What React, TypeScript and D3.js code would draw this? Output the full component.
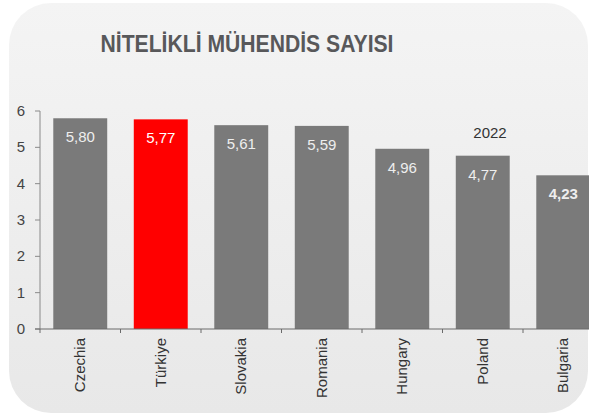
import * as d3 from "d3";

const countries = ["Czechia", "Türkiye", "Slovakia", "Romania", "Hungary", "Poland", "Bulgaria"];
const values = [5.8, 5.77, 5.61, 5.59, 4.96, 4.77, 4.23];
const labels = ["5,80", "5,77", "5,61", "5,59", "4,96", "4,77", "4,23"];
const yTicks = [0, 1, 2, 3, 4, 5, 6];
const highlight = "Türkiye";

export default function App() {
  const width = 589;
  const height = 419;
  const x0 = 40;
  const x = d3
    .scaleBand<string>(countries, [x0, 603.5])
    .paddingInner(0.33)
    .paddingOuter(0.165);
  const y = d3.scaleLinear([0, 6], [329, 111]);
  const step = x.step();
  const font = "'Liberation Sans', Arial, sans-serif";

  return (
    <svg
      width={width}
      height={height}
      style={{ position: "absolute", left: 0, top: 0, fontFamily: font }}
    >
      <defs>
        <linearGradient id="panel" x1="0" y1="0" x2="0" y2="1">
          <stop offset="0%" stopColor="#f4f4f4" />
          <stop offset="100%" stopColor="#e8e8e8" />
        </linearGradient>
      </defs>
      <rect width={width} height={height} fill="#fff" />
      <rect x={9} y={3} width={579} height={410} rx={42} fill="url(#panel)" />

      <text
        x={247}
        y={52}
        textAnchor="middle"
        fontSize={23}
        fontWeight="bold"
        fill="#58585a"
        textLength={293}
        lengthAdjust="spacingAndGlyphs"
      >
        NİTELİKLİ MÜHENDİS SAYISI
      </text>

      {/* bars */}
      {countries.map((c, i) => (
        <rect
          key={c}
          x={x(c)}
          y={y(values[i])}
          width={x.bandwidth()}
          height={y(0) - y(values[i])}
          fill={c === highlight ? "#ff0000" : "#7a7a7a"}
        />
      ))}
      {countries.map((c, i) => (
        <text
          key={c}
          x={(x(c) as number) + x.bandwidth() / 2}
          y={y(values[i]) + 24}
          textAnchor="middle"
          fontSize={15}
          fontWeight={c === "Bulgaria" ? "bold" : "normal"}
          fill={c === highlight ? "#ffffff" : "#eeeeee"}
        >
          {labels[i]}
        </text>
      ))}

      {/* y axis */}
      <line x1={x0} x2={x0} y1={y(6)} y2={y(0)} stroke="#8a8a8a" />
      {yTicks.map((t) => (
        <g key={t}>
          <line x1={x0 - 5} x2={x0} y1={y(t)} y2={y(t)} stroke="#8a8a8a" />
          <text x={25} y={y(t) + 5} textAnchor="end" fontSize={15} fill="#444">
            {t}
          </text>
        </g>
      ))}

      {/* x axis */}
      <line x1={x0 - 5} x2={width} y1={y(0)} y2={y(0)} stroke="#6a6a6a" />
      {countries.map((c, i) => (
        <line
          key={c}
          x1={x0 + i * step}
          x2={x0 + i * step}
          y1={y(0)}
          y2={y(0) + 4}
          stroke="#6a6a6a"
        />
      ))}
      {countries.map((c) => {
        const cx = (x(c) as number) + x.bandwidth() / 2 + 5;
        return (
          <text
            key={c}
            transform={`translate(${cx},338) rotate(-90)`}
            textAnchor="end"
            fontSize={15}
            fill="#333"
          >
            {c}
          </text>
        );
      })}

      <text x={490} y={138} textAnchor="middle" fontSize={15} fill="#333">
        2022
      </text>
    </svg>
  );
}
